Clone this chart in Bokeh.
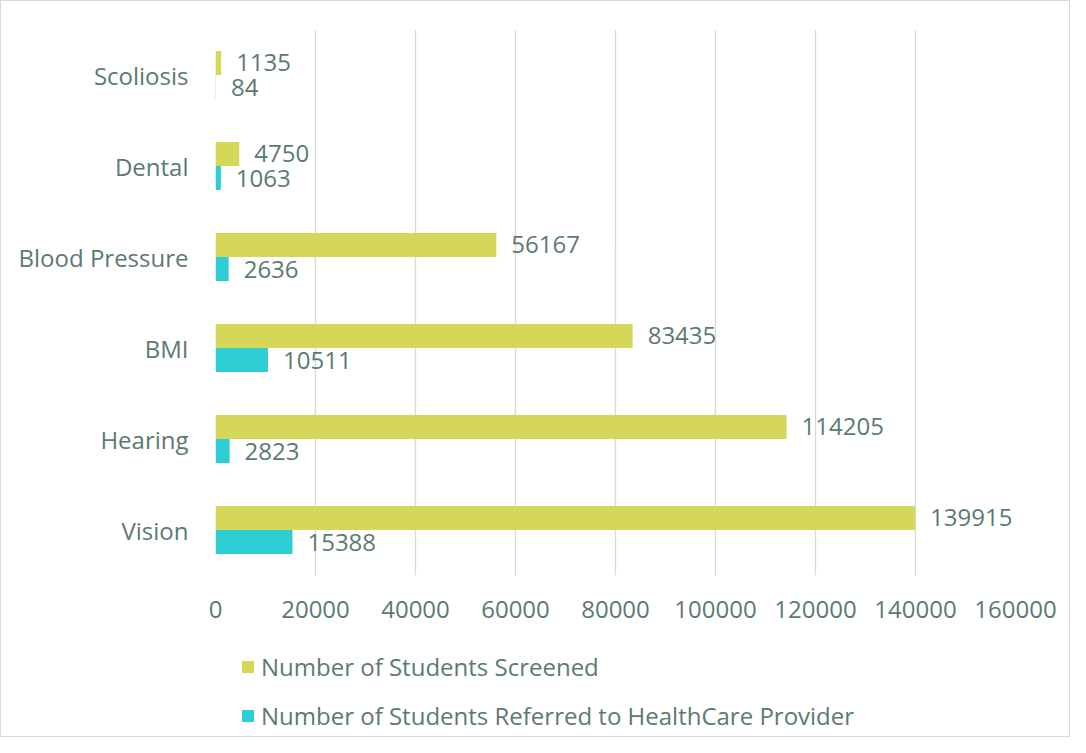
from bokeh.plotting import figure
from bokeh.models import (ColumnDataSource, FactorRange, Range1d, LabelSet, Legend, LegendItem,
                          SingleIntervalTicker)
from bokeh.layouts import column
from bokeh.core.properties import value
from bokeh.transform import dodge
from bokeh.embed import file_html
from bokeh.resources import INLINE

categories = ["Vision", "Hearing", "BMI", "Blood Pressure", "Dental", "Scoliosis"]
screened = [139915, 114205, 83435, 56167, 4750, 1135]
referred = [15388, 2823, 10511, 2636, 1063, 84]
series_names = ["Number of Students Screened", "Number of Students Referred to HealthCare Provider"]

TEXT = "#5b7a72"
FONT = "Open Sans"
FS = "24px"
C_SCR = "#d4d758"
C_REF = "#2ecdd3"

src = ColumnDataSource(dict(cat=categories, scr=screened, ref=referred,
                            scr_lbl=[str(v) for v in screened], ref_lbl=[str(v) for v in referred]))

p = figure(frame_width=800, frame_height=546, y_range=FactorRange(*categories, range_padding=0),
           x_range=Range1d(0, 160000), output_backend="svg", toolbar_location=None,
           min_border_left=214, min_border_right=54, min_border_top=28, min_border_bottom=70)
p.outline_line_color = None
p.background_fill_color = "white"
p.border_fill_color = "white"

bh = 0.264
r1 = p.hbar(y=dodge("cat", bh / 2, range=p.y_range), right="scr", left=0, height=bh,
            source=src, fill_color=C_SCR, line_color=None)
r2 = p.hbar(y=dodge("cat", -bh / 2, range=p.y_range), right="ref", left=0, height=bh,
            source=src, fill_color=C_REF, line_color=None)

for col, lbl, dd in [("scr", "scr_lbl", bh / 2), ("ref", "ref_lbl", -bh / 2)]:
    ls = LabelSet(x=col, y=dodge("cat", dd, range=p.y_range), text=lbl, source=src,
                  x_offset=15, text_baseline="middle", text_align="left",
                  text_font=value(FONT), text_font_size=FS, text_color=TEXT)
    p.add_layout(ls)

p.xaxis.ticker = SingleIntervalTicker(interval=20000)
p.xaxis.formatter.use_scientific = False
p.xgrid.ticker = SingleIntervalTicker(interval=20000)
p.xgrid.grid_line_color = "#d9d9d9"
p.xgrid.grid_line_width = 1.3
p.ygrid.grid_line_color = None

for ax in (p.xaxis[0], p.yaxis[0]):
    ax.axis_line_color = None
    ax.major_tick_line_color = None
    ax.minor_tick_line_color = None
    ax.major_tick_out = 0
    ax.major_tick_in = 0
    ax.minor_tick_out = 0
    ax.major_label_text_font = FONT
    ax.major_label_text_font_size = FS
    ax.major_label_text_color = TEXT
p.xaxis.major_label_standoff = 25
p.yaxis.major_label_standoff = 27

# Legend strip below the chart (its own canvas so the legend is not clipped)
p2 = figure(width=1068, height=91, x_range=Range1d(-2, -1),
            y_range=FactorRange(*categories), x_axis_type=None, y_axis_type=None,
            output_backend="svg", toolbar_location=None, min_border=0)
p2.outline_line_color = None
p2.grid.visible = False
p2.border_fill_color = "white"
l1 = p2.hbar(y="cat", right="scr", left=0, height=0, source=src, fill_color=C_SCR, line_color=None)
l2 = p2.hbar(y="cat", right="ref", left=0, height=0, source=src, fill_color=C_REF, line_color=None)

legend = Legend(items=[LegendItem(label=series_names[0], renderers=[l1]),
                       LegendItem(label=series_names[1], renderers=[l2])],
                location=(25, 4), orientation="vertical",
                glyph_width=15, glyph_height=15, label_standoff=6, spacing=15,
                padding=0, margin=0, border_line_alpha=0, background_fill_alpha=0,
                label_text_font=FONT, label_text_font_size=FS, label_text_color=TEXT,
                label_height=34)
p2.add_layout(legend, "center")

layout = column(p, p2, spacing=0, styles={"border": "1px solid #d9d9d9"})

open("out.html", "w").write(file_html(layout, INLINE))
